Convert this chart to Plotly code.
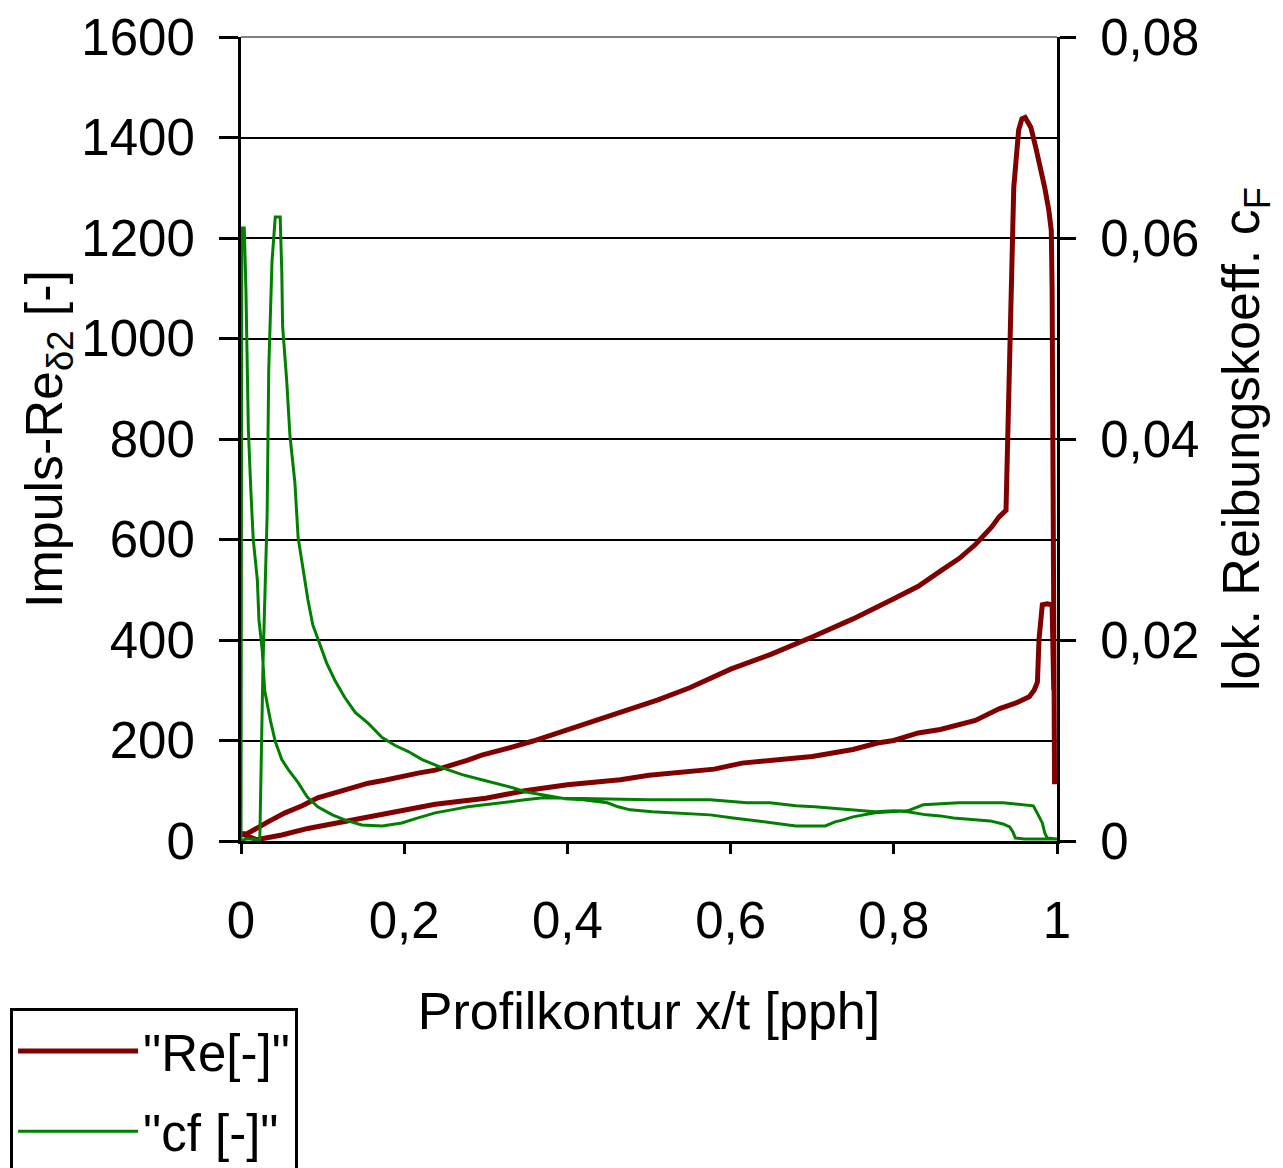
import plotly.graph_objects as go

# ---- Data ----
# Impuls-Reynolds number, upper surface (starts at leading edge x=0)
re_up_x = [0.0, 0.007, 0.033, 0.054, 0.075, 0.094, 0.115, 0.136, 0.156, 0.176, 0.197, 0.217,
           0.238, 0.258, 0.278, 0.295, 0.33, 0.358, 0.4, 0.45, 0.511, 0.55, 0.6, 0.65, 0.7,
           0.75, 0.8, 0.83, 0.857, 0.88, 0.9, 0.92, 0.929, 0.9375, 0.94, 0.944, 0.947, 0.953,
           0.957, 0.961, 0.968, 0.974, 0.98, 0.985, 0.99, 0.993, 0.994, 0.995, 0.996, 0.997]
re_up = [15, 14, 38, 56, 70, 86, 96, 105, 115, 121, 127, 135,
         141, 151, 161, 171, 186, 199, 223, 248, 281, 305, 342, 372, 406,
         442, 482, 507, 537, 562, 590, 625, 645, 658, 800, 1108, 1300, 1415,
         1437, 1440, 1420, 1380, 1340, 1300, 1255, 1215, 1100, 950, 754, 113]

# Impuls-Reynolds number, lower surface (starts at stagnation point x~0.02)
re_lo_x = [0.02, 0.024, 0.05, 0.082, 0.115, 0.156, 0.197, 0.238, 0.3, 0.348, 0.4, 0.465,
           0.5, 0.58, 0.614, 0.7, 0.75, 0.78, 0.8, 0.83, 0.857, 0.9, 0.929, 0.95, 0.966,
           0.972, 0.976, 0.978, 0.982, 0.988, 0.994, 0.996]
re_lo = [2, 4, 12, 25, 35, 48, 62, 73, 85, 100, 112, 122,
         131, 143, 155, 168, 182, 195, 200, 215, 222, 240, 263, 275, 287,
         300, 316, 402, 470, 472, 470, 300]

# local skin friction coefficient, upper surface (from x=0)
cf_up_x = [0.0, 0.001, 0.004, 0.006, 0.009, 0.012, 0.015, 0.02, 0.022, 0.026, 0.029, 0.033,
           0.036, 0.042, 0.05, 0.058, 0.07, 0.081, 0.094, 0.112, 0.127, 0.148, 0.173, 0.197,
           0.217, 0.238, 0.258, 0.278, 0.299, 0.32, 0.348, 0.37, 0.397, 0.5, 0.575, 0.62,
           0.648, 0.68, 0.703, 0.73, 0.75, 0.777, 0.8, 0.817, 0.84, 0.857, 0.873, 0.9, 0.918,
           0.934, 0.942, 0.946, 0.949, 0.96, 1.0]
cf_up = [0.0, 0.061, 0.061, 0.055, 0.041, 0.035, 0.030, 0.026, 0.022, 0.019, 0.015, 0.0133,
         0.012, 0.0099, 0.0081, 0.0071, 0.0058, 0.0044, 0.0034, 0.0026, 0.0021, 0.0016, 0.0015, 0.0018,
         0.0023, 0.0028, 0.0031, 0.0034, 0.0036, 0.0038, 0.0041, 0.0043, 0.0042, 0.0041, 0.0041, 0.0038,
         0.0038, 0.0035, 0.0034, 0.0032, 0.0031, 0.0029, 0.0030, 0.0029, 0.0026, 0.0025, 0.0023, 0.0021, 0.0020,
         0.0017, 0.0014, 0.0009, 0.0003, 0.0002, 0.0002]

# local skin friction coefficient, lower surface (from stagnation point)
cf_lo_x = [0.006, 0.015, 0.023, 0.027, 0.032, 0.034, 0.038, 0.042, 0.048, 0.05, 0.051, 0.056,
           0.06, 0.066, 0.07, 0.076, 0.082, 0.088, 0.097, 0.105, 0.115, 0.127, 0.14, 0.156,
           0.173, 0.189, 0.205, 0.222, 0.246, 0.271, 0.295, 0.321, 0.333, 0.348, 0.397, 0.419,
           0.449, 0.462, 0.477, 0.504, 0.575, 0.603, 0.632, 0.648, 0.68, 0.716, 0.728, 0.738,
           0.75, 0.777, 0.817, 0.836, 0.88, 0.934, 0.971, 0.975, 0.982, 0.985, 0.988, 1.0]
cf_lo = [0.0002, 0.0002, 0.0, 0.0177, 0.0323, 0.0469, 0.0577, 0.0621, 0.0621, 0.0566, 0.0512, 0.0458,
         0.0403, 0.0357, 0.0302, 0.027, 0.024, 0.0215, 0.0194, 0.0177, 0.016, 0.0143, 0.0128, 0.0117,
         0.0103, 0.0095, 0.0089, 0.0081, 0.0073, 0.0066, 0.0061, 0.0056, 0.0053, 0.0049, 0.0042, 0.0041,
         0.0038, 0.0034, 0.0031, 0.0029, 0.0026, 0.0023, 0.0020, 0.0018, 0.0015, 0.0015, 0.0019, 0.0021,
         0.0024, 0.0028, 0.0030, 0.0036, 0.0038, 0.0038, 0.0035, 0.0029, 0.0018, 0.0008, 0.0003, 0.0002]

# one contour line per quantity: trailing edge (upper) -> leading edge -> trailing edge (lower)
re_x = re_up_x[::-1] + re_lo_x
re_y = re_up[::-1] + re_lo
cf_x = cf_up_x[::-1] + cf_lo_x
cf_y = cf_up[::-1] + cf_lo

FONT = "Liberation Sans, Arial, sans-serif"

fig = go.Figure()
fig.add_trace(go.Scatter(x=re_x, y=re_y, mode="lines", name='"Re[-]"',
                         line=dict(color="#800000", width=5), yaxis="y",
                         legendgroup="a"))
fig.add_trace(go.Scatter(x=cf_x, y=cf_y, mode="lines", name='"cf [-]"',
                         line=dict(color="#008000", width=3), yaxis="y2",
                         legendgroup="b"))

fig.update_layout(
    width=1283, height=1168,
    margin=dict(l=241, r=226, t=37, b=327, autoexpand=False),
    paper_bgcolor="white", plot_bgcolor="white",
    separators=",.",
    font=dict(family=FONT, size=51, color="black"),
    showlegend=True,
    legend=dict(x=-0.283, y=-0.208, xanchor="left", yanchor="top",
                bordercolor="black", borderwidth=3, bgcolor="white",
                font=dict(size=51), tracegroupgap=11, traceorder="grouped",
                itemwidth=120),
    xaxis=dict(range=[0, 1], dtick=0.2, tick0=0,
               showline=True, linecolor="black", linewidth=3,
               ticks="outside", ticklen=10, tickwidth=3, tickcolor="black",
               showgrid=False, zeroline=False, ticklabelstandoff=23,
               title=dict(text="Profilkontur x/t [pph]", font=dict(size=52), standoff=45)),
    yaxis=dict(range=[0, 1600], dtick=200,
               showline=True, linecolor="black", linewidth=3,
               ticks="outside", ticklen=19, tickwidth=3, tickcolor="black",
               showgrid=True, gridcolor="black", gridwidth=2, zeroline=False,
               ticklabelstandoff=14,
               title=dict(text="Impuls-Re<sub>δ2</sub> [-]", font=dict(size=52), standoff=0)),
    yaxis2=dict(range=[0, 0.08], dtick=0.02, overlaying="y", side="right",
                showline=True, linecolor="black", linewidth=3,
                ticks="outside", ticklen=16, tickwidth=3, tickcolor="black",
                showgrid=False, zeroline=False, ticklabelstandoff=14,
                title=dict(text="lok. Reibungskoeff. c<sub>F</sub>", font=dict(size=52), standoff=25)),
    shapes=[dict(type="line", xref="paper", yref="paper", x0=0, x1=1, y0=1, y1=1,
                 line=dict(color="#808080", width=2), layer="above")],
)

fig.write_html("out.html")
